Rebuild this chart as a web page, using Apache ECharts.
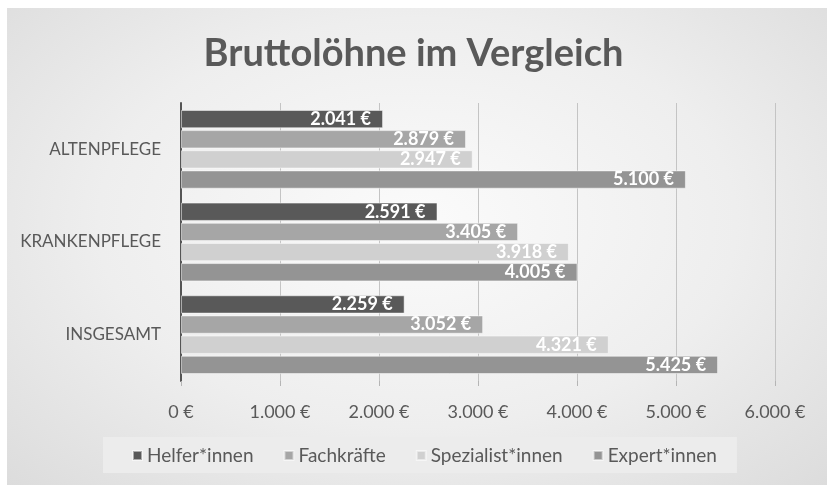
<!DOCTYPE html>
<html>
<head>
<meta charset="utf-8">
<script src="https://cdn.jsdelivr.net/npm/echarts@6/dist/echarts.min.js"></script>
<style>
  html, body { margin: 0; padding: 0; background: #fff; }
  #bg {
    position: absolute; left: 7px; top: 8px;
    width: 820px; height: 477px;
    background: radial-gradient(ellipse at 50% 45%, #fbfbfb 0%, #eeeeee 55%, #dcdcdc 100%);
  }
  #chart { position: absolute; left: 0; top: 0; width: 827px; height: 485px; }
</style>
</head>
<body>
<div id="bg"></div>
<div id="chart"></div>
<script>
const categories = ['ALTENPFLEGE', 'KRANKENPFLEGE', 'INSGESAMT']
const seriesNames = ['Helfer*innen', 'Fachkräfte', 'Spezialist*innen', 'Expert*innen']
const helfer = [2041, 2591, 2259]
const fachkraefte = [2879, 3405, 3052]
const spezialisten = [2947, 3918, 4321]
const experten = [5100, 4005, 5425]
const xTicks = [0, 1000, 2000, 3000, 4000, 5000, 6000]

const colors = ['#595959', '#a6a6a6', '#d0d0d0', '#949494']
const fontFamily = 'Lato, "Open Sans", sans-serif'

const fmt = v => v.toLocaleString('de-DE') + ' €'

const chart = echarts.init(document.getElementById('chart'))

const seriesData = [helfer, fachkraefte, spezialisten, experten]

const option = {
  backgroundColor: 'transparent',
  textStyle: { fontFamily },
  title: {
    text: 'Bruttolöhne im Vergleich',
    left: 'center',
    top: 30,
    textStyle: { fontSize: 38, fontWeight: 'bold', color: '#595959', fontFamily }
  },
  legend: {
    data: seriesNames,
    left: 103,
    top: 437,
    padding: [9, 20, 8, 29],
    backgroundColor: '#ececec',
    itemWidth: 9,
    itemHeight: 9,
    itemGap: 30,
    icon: 'rect',
    textStyle: { fontSize: 19, color: '#595959', fontFamily }
  },
  grid: { left: 181, right: 52, top: 103, bottom: 104 },
  xAxis: {
    type: 'value',
    min: xTicks[0],
    max: xTicks[xTicks.length - 1],
    interval: 1000,
    axisLine: { show: false },
    axisTick: { show: true, length: 5, lineStyle: { color: '#b5b5b5' } },
    axisLabel: { color: '#595959', fontSize: 18, margin: 22, formatter: v => fmt(v) },
    splitLine: { lineStyle: { color: '#c4c4c4', width: 1 } }
  },
  yAxis: {
    type: 'category',
    inverse: true,
    data: categories,
    axisLine: { show: true, lineStyle: { color: '#555555', width: 2 } },
    axisTick: { show: false },
    axisLabel: { color: '#595959', fontSize: 17, margin: 20 }
  },
  series: seriesNames.map((name, i) => ({
    name,
    type: 'bar',
    data: seriesData[i],
    barGap: '10%',
    barCategoryGap: '15%',
    itemStyle: { color: colors[i], borderColor: 'rgba(255,255,255,0.5)', borderWidth: 1 },
    label: {
      show: true,
      position: 'insideRight',
      distance: 12,
      color: '#ffffff',
      fontWeight: 'bold',
      fontSize: 18,
      fontFamily,
      formatter: p => fmt(p.value)
    }
  }))
}

chart.setOption(option)
</script>
</body>
</html>
